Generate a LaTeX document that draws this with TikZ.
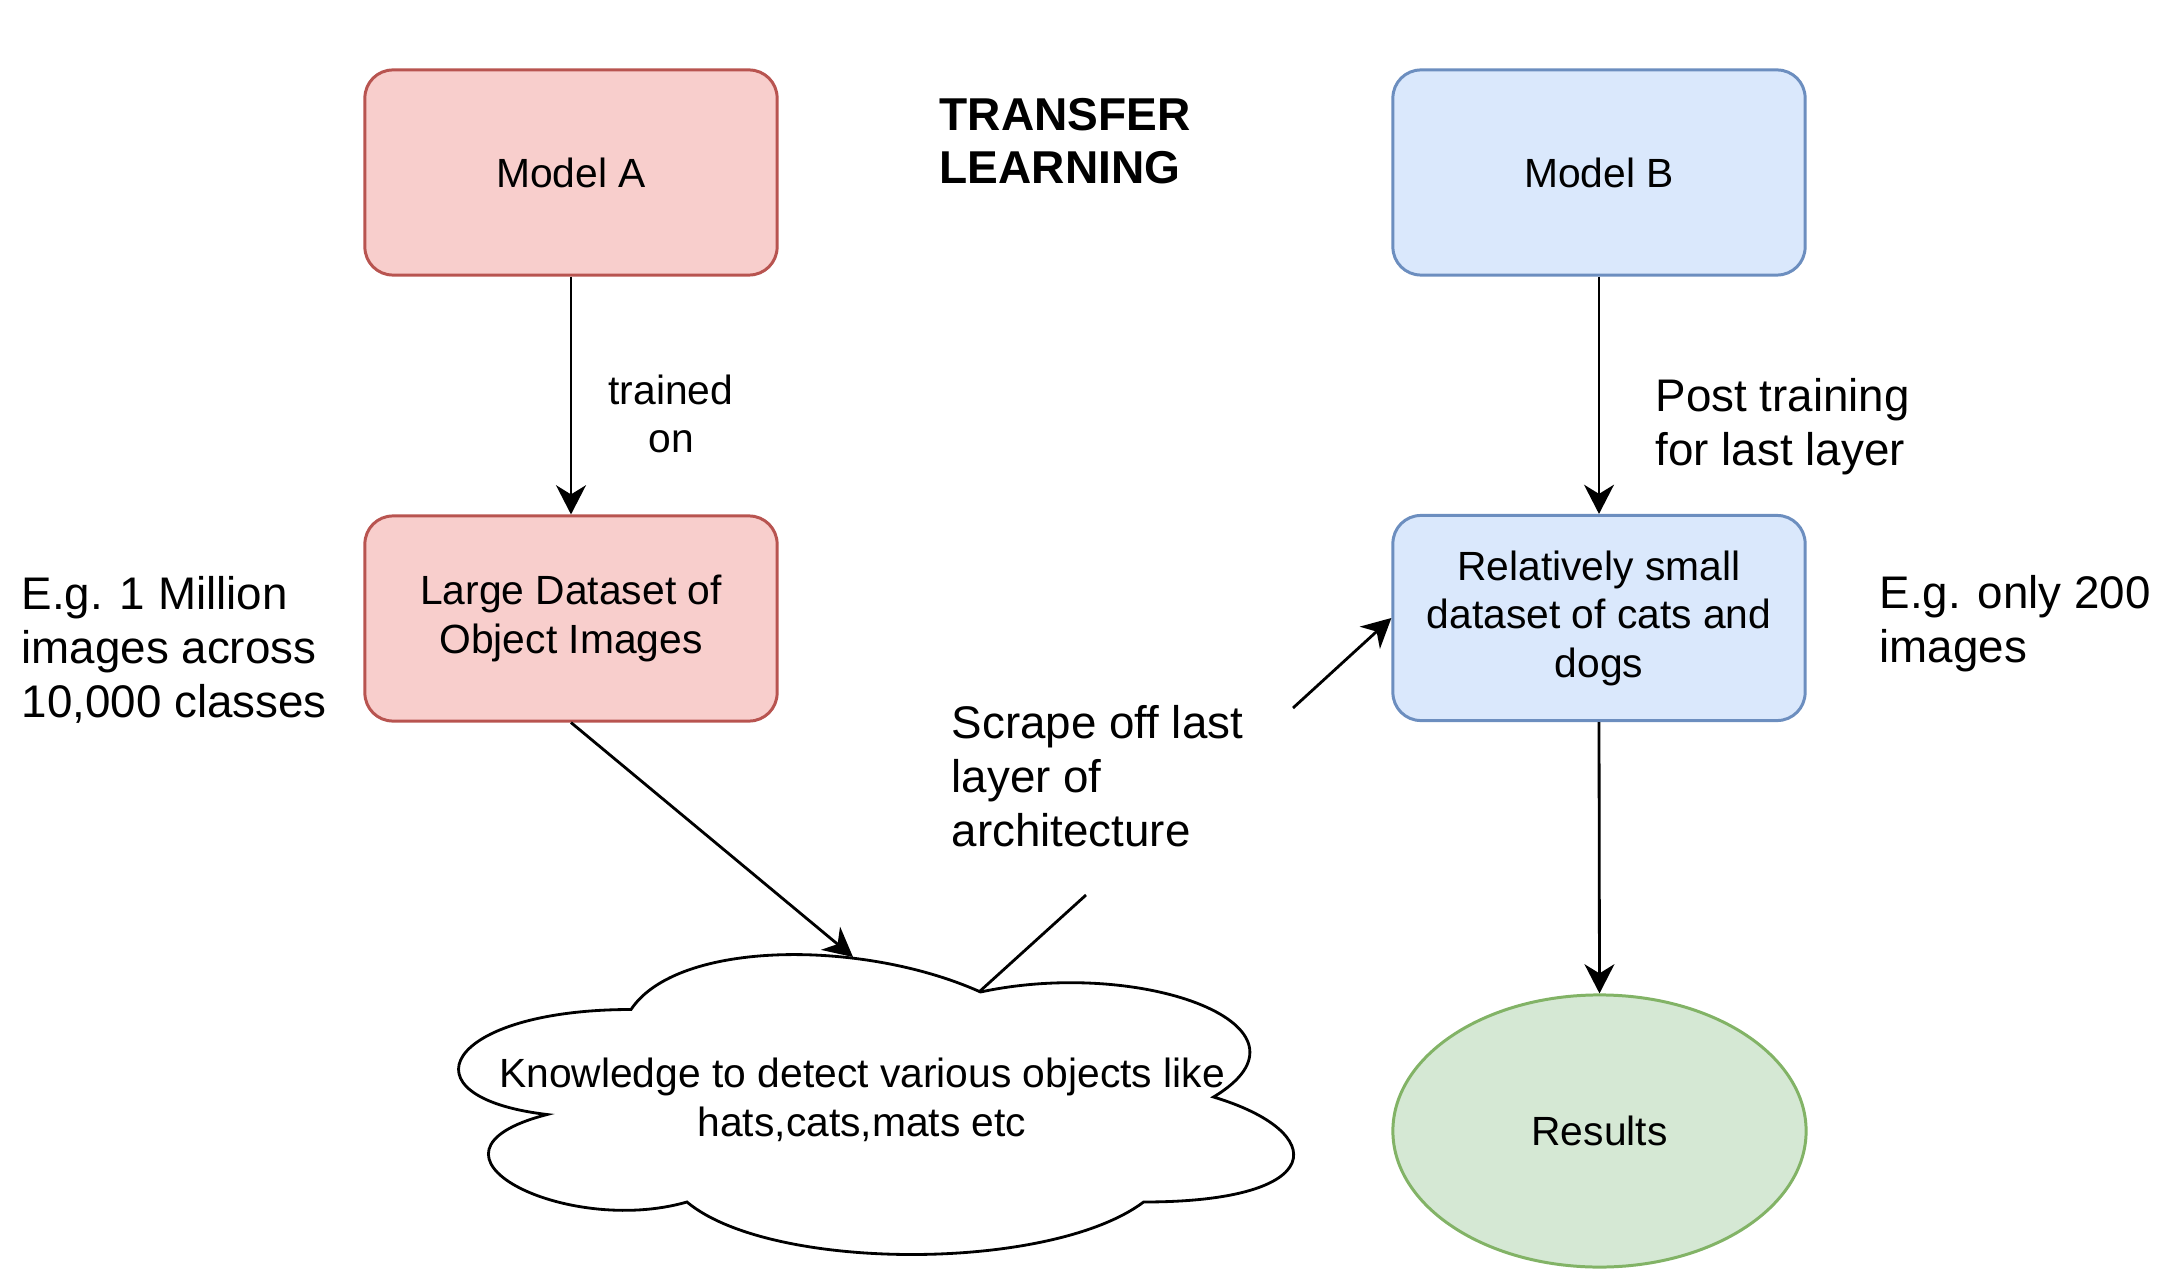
\documentclass[tikz,border=0pt]{standalone}
\usepackage{fontspec}
\setmainfont{Liberation Sans}
\usetikzlibrary{arrows.meta,shapes.geometric}
\definecolor{redfill}{HTML}{F8CECC}
\definecolor{redline}{HTML}{B85450}
\definecolor{bluefill}{HTML}{DAE8FC}
\definecolor{blueline}{HTML}{6C8EBF}
\definecolor{greenfill}{HTML}{D5E8D4}
\definecolor{greenline}{HTML}{82B366}
\begin{document}
\begin{tikzpicture}[x=0.01cm,y=-0.01cm,
  boxtxt/.style={font=\fontsize{11.6}{13.8}\selectfont, align=center},
  modelbox/.style={rectangle, rounded corners=0.28cm, minimum width=4.12cm, minimum height=2.05cm, line width=0.85pt, boxtxt},
  redbox/.style={modelbox, draw=redline, fill=redfill},
  bluebox/.style={modelbox, draw=blueline, fill=bluefill},
  lbl/.style={font=\fontsize{13}{15.4}\selectfont, align=left, inner sep=0pt, anchor=west},
  plainline/.style={line width=0.8pt},
  conn/.style={line width=0.8pt, -{Stealth[length=8.3pt,width=8.5pt,inset=2.6pt]}},
]
\useasboundingbox (0,0) rectangle (2172,1282);

% boxes
\node[redbox] (mA) at (571,172.5) {Model A};
\node[redbox] (lds) at (571,618.5) {Large Dataset of\\Object Images};
\node[bluebox] (mB) at (1599,172.5) {Model B};
\node[bluebox] (sds) at (1599,618) {Relatively small\\dataset of cats and\\dogs};
\node[ellipse, draw=greenline, fill=greenfill, line width=0.85pt, minimum width=4.13cm, minimum height=2.72cm, boxtxt] (res) at (1599.5,1131) {Results};

% cloud
\begin{scope}[shift={(398,922)}]
\draw[line width=0.8pt, fill=white] (233,87.5)
  .. controls (46.6,87.5) and (0,175) .. (149.12,192.5)
  .. controls (0,231) and (167.76,315) .. (288.92,280)
  .. controls (372.8,350) and (652.4,350) .. (745.6,280)
  .. controls (932,280) and (932,210) .. (815.5,175)
  .. controls (932,105) and (745.6,35) .. (582.5,70)
  .. controls (466,17.5) and (279.6,17.5) .. (233,87.5) -- cycle;
\end{scope}
\node[boxtxt] (cloudtxt) at (862,1100) {Knowledge to detect various objects like\\hats,cats,mats etc};
\coordinate (cloudtop) at (853,957);
\coordinate (cj) at (979,992);
\coordinate (s1) at (1086,895);
\coordinate (s2) at (1293,708);

% labels
\node[font=\bfseries\fontsize{13.1}{15.1}\selectfont, align=left, inner sep=0pt, anchor=west] (title) at (939,141) {TRANSFER\\LEARNING};
\node[boxtxt, inner sep=0pt] (trained) at (671,414) {trained\\on};
\node[lbl] (post) at (1655,427) {Post training\\for last layer};
\node[lbl] (eg1) at (21,650) {E.g. 1 Million\\images across\\10,000 classes};
\node[lbl] (eg2) at (1879,624) {E.g. only 200\\images};
\node[lbl] (scrape) at (951,776) {Scrape off last\\layer of\\architecture};

% connectors
\draw[conn] (mA.south) -- (lds.north);
\draw[conn] (mB.south) -- (sds.north);
\draw[conn] (sds.south) -- (res.north);
\draw[conn] (lds.south) -- (cloudtop);
\draw[plainline] (cj) -- (s1);
\draw[conn] (s2) -- (sds.west);
\end{tikzpicture}
\end{document}
